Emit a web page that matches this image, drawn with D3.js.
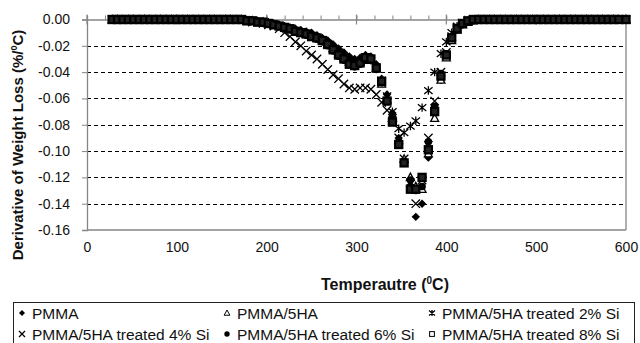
<!DOCTYPE html>
<html><head><meta charset="utf-8">
<script src="https://cdn.jsdelivr.net/npm/d3@7"></script>
<style>
body{margin:0;background:#fff}
svg{display:block}
text{font-family:"Liberation Sans",Arial,sans-serif;fill:#111}
</style>
</head><body>
<svg id="c" width="640" height="343"></svg>
<script>
// ---- data (temperature in °C, derivative of weight loss in %/°C) ----
const temps = [28,34,40,46,52,58,64,70,76,82,88,94,100,106,112,118,124,130,136,142,148,154,160,166,172,
  178,184,190,196,202,208,214,220,226,232,238,244,250,256,262,268,274,280,286,292,298,304,310,316,322,
  328,334,340,347,353,360,366,373,380,387,394,400,406,412,418,424,430,
  436,442,448,454,460,466,472,478,484,490,496,502,508,514,520,526,532,538,544,550,556,562,568,574,580,586,592,600];

const pmma = [0,0,0,0,0, 0,0,0,0,0, 0,0,0,0,0, 0,0,0,0,0, 0,0,0,0,0,
  -0.001,-0.001,-0.001,-0.002,-0.002,-0.003,-0.004,-0.005,-0.006,-0.007,
  -0.008,-0.009,-0.010,-0.012,-0.014,-0.016,-0.019,-0.022,-0.025,-0.028,
  -0.030,-0.029,-0.027,-0.028,-0.034,-0.045,-0.057,-0.071,-0.090,-0.107,
  -0.126,-0.150,-0.140,-0.105,-0.072,-0.046,-0.028,-0.015,-0.008,-0.004,
  -0.002,-0.001,
  0,0,0,0,0, 0,0,0,0,0, 0,0,0,0,0, 0,0,0,0,0, 0,0,0,0,0, 0,0,0];

const ha5 = [0,0,0,0,0, 0,0,0,0,0, 0,0,0,0,0, 0,0,0,0,0, 0,0,0,0,0,
  -0.001,-0.001,-0.002,-0.002,-0.003,-0.004,-0.005,-0.006,-0.007,-0.008,
  -0.010,-0.011,-0.012,-0.014,-0.016,-0.019,-0.022,-0.026,-0.029,-0.032,
  -0.034,-0.032,-0.030,-0.031,-0.037,-0.049,-0.061,-0.075,-0.092,-0.106,
  -0.120,-0.127,-0.129,-0.102,-0.075,-0.046,-0.029,-0.016,-0.008,-0.004,
  -0.002,-0.001,
  0,0,0,0,0, 0,0,0,0,0, 0,0,0,0,0, 0,0,0,0,0, 0,0,0,0,0, 0,0,0];

const si2 = [0,0,0,0,0, 0,0,0,0,0, 0,0,0,0,0, 0,0,0,0,0, 0,0,0,0,0,
  -0.001,-0.001,-0.002,-0.002,-0.003,-0.004,-0.005,-0.006,-0.007,-0.009,
  -0.010,-0.011,-0.012,-0.014,-0.016,-0.019,-0.022,-0.025,-0.028,-0.031,
  -0.033,-0.032,-0.030,-0.031,-0.036,-0.046,-0.058,-0.070,-0.083,-0.086,
  -0.081,-0.077,-0.067,-0.054,-0.040,-0.026,-0.017,-0.010,-0.005,-0.003,
  -0.001,0,
  0,0,0,0,0, 0,0,0,0,0, 0,0,0,0,0, 0,0,0,0,0, 0,0,0,0,0, 0,0,0];

const si4 = [0,0,0,0,0, 0,0,0,0,0, 0,0,0,0,0, 0,0,0,0,0, 0,0,0,0,0,
  -0.001,-0.002,-0.002,-0.003,-0.004,-0.005,-0.007,-0.010,-0.013,-0.017,
  -0.020,-0.024,-0.027,-0.030,-0.034,-0.038,-0.042,-0.045,-0.049,-0.052,
  -0.053,-0.052,-0.052,-0.053,-0.057,-0.063,-0.069,-0.077,-0.090,-0.106,
  -0.124,-0.140,-0.122,-0.090,-0.062,-0.040,-0.025,-0.013,-0.006,-0.003,
  -0.001,0,
  0,0,0,0,0, 0,0,0,0,0, 0,0,0,0,0, 0,0,0,0,0, 0,0,0,0,0, 0,0,0];

const si6 = [0,0,0,0,0, 0,0,0,0,0, 0,0,0,0,0, 0,0,0,0,0, 0,0,0,0,0,
  -0.001,-0.001,-0.002,-0.003,-0.003,-0.004,-0.005,-0.006,-0.008,-0.009,
  -0.010,-0.012,-0.013,-0.015,-0.017,-0.020,-0.024,-0.028,-0.031,-0.034,
  -0.036,-0.034,-0.031,-0.031,-0.038,-0.048,-0.061,-0.074,-0.093,-0.108,
  -0.122,-0.130,-0.127,-0.093,-0.066,-0.041,-0.026,-0.013,-0.006,-0.003,
  -0.001,0,
  0,0,0,0,0, 0,0,0,0,0, 0,0,0,0,0, 0,0,0,0,0, 0,0,0,0,0, 0,0,0];

const si8 = [0,0,0,0,0, 0,0,0,0,0, 0,0,0,0,0, 0,0,0,0,0, 0,0,0,0,0,
  -0.001,-0.001,-0.002,-0.002,-0.003,-0.004,-0.005,-0.006,-0.007,-0.009,
  -0.010,-0.011,-0.013,-0.014,-0.016,-0.019,-0.023,-0.027,-0.030,-0.034,
  -0.035,-0.033,-0.029,-0.030,-0.037,-0.047,-0.062,-0.078,-0.095,-0.109,
  -0.129,-0.129,-0.120,-0.099,-0.070,-0.043,-0.027,-0.014,-0.007,-0.003,
  -0.001,0,
  0,0,0,0,0, 0,0,0,0,0, 0,0,0,0,0, 0,0,0,0,0, 0,0,0,0,0, 0,0,0];

const seriesNames = ["PMMA","PMMA/5HA","PMMA/5HA treated 2% Si","PMMA/5HA treated 4% Si","PMMA/5HA treated 6% Si","PMMA/5HA treated 8% Si"];
const seriesValues = [pmma, ha5, si2, si4, si6, si8];
const seriesMarkers = ["diamond","triangle","asterisk","times","circle","square"];

const xTicks = [0,100,200,300,400,500,600];
const xTickLabels = ["0","100","200","300","400","500","600"];
const yTicks = [0,-0.02,-0.04,-0.06,-0.08,-0.10,-0.12,-0.14,-0.16];
const yTickLabels = ["0.00","-0.02","-0.04","-0.06","-0.08","-0.10","-0.12","-0.14","-0.16"];

// ---- drawing ----
const svg = d3.select("#c");
const L = 87, R = 626, T = 19.5, B = 230;
const x = d3.scaleLinear().domain([0,600]).range([L,R]);
const y = d3.scaleLinear().domain([-0.16,0]).range([B,T]);
const axisCol = "#858585";

// gridlines
svg.append("g").selectAll("line").data(yTicks.filter(v => v < 0 && v > -0.16)).join("line")
  .attr("x1", L).attr("x2", R).attr("y1", d => Math.round(y(d)) + 0.5).attr("y2", d => Math.round(y(d)) + 0.5)
  .attr("stroke", "#000").attr("stroke-width", 1).attr("stroke-dasharray", "4,3");

// plot borders
const border = svg.append("g").attr("stroke", axisCol).attr("stroke-width", 1.3).attr("fill", "none");
border.append("line").attr("x1", L).attr("x2", R).attr("y1", B).attr("y2", B);
border.append("line").attr("x1", R).attr("x2", R).attr("y1", T).attr("y2", B);

// y axis
const yAx = svg.append("g").attr("transform", `translate(${L},0)`)
  .call(d3.axisLeft(y).tickValues(yTicks).tickSize(5).tickPadding(12)
    .tickFormat((d,i) => yTickLabels[i]));
yAx.select(".domain").attr("stroke", axisCol).attr("stroke-width", 1.3);
yAx.selectAll(".tick line").attr("stroke", axisCol);
yAx.selectAll("text").style("font-size", "14px").attr("fill", "#111");

// x axis labels (at bottom)
const xAx = svg.append("g").attr("transform", `translate(0,${B})`)
  .call(d3.axisBottom(x).tickValues(xTicks).tickSize(0).tickPadding(12)
    .tickFormat((d,i) => xTickLabels[i]));
xAx.select(".domain").remove();
xAx.selectAll("text").style("font-size", "14px").attr("fill", "#111");

// x axis line at value 0 (top) with minor and major ticks
const y0 = y(0);
const topAx = svg.append("g").attr("transform", `translate(0,${y0})`)
  .call(d3.axisTop(x).ticks(30).tickSize(4).tickFormat(""));
topAx.select(".domain").attr("stroke", axisCol).attr("stroke-width", 1.3);
topAx.selectAll(".tick line").attr("stroke", axisCol);
svg.append("g").selectAll("line").data(xTicks).join("line")
  .attr("x1", d => x(d)).attr("x2", d => x(d)).attr("y1", y0 - 5).attr("y2", y0 + 5)
  .attr("stroke", axisCol).attr("stroke-width", 1.2);

// markers
function drawMarker(g, type, s, legend) {
  const r = s;
  if (type === "diamond") {
    g.append("path").attr("d", `M0,${-r}L${r},0L0,${r}L${-r},0Z`).attr("fill", "#000");
  } else if (type === "triangle") {
    g.append("path").attr("d", `M0,${-r}L${r*0.95},${r*0.75}L${-r*0.95},${r*0.75}Z`)
      .attr("fill", "#fff").attr("stroke", "#000").attr("stroke-width", legend ? 1 : 1.3);
  } else if (type === "asterisk") {
    g.append("path").attr("d", `M${-r},${-r*0.8}L${r},${r*0.8}M${-r},${r*0.8}L${r},${-r*0.8}M0,${-r}L0,${r}`)
      .attr("stroke", "#000").attr("stroke-width", 1.3).attr("fill", "none");
  } else if (type === "times") {
    g.append("path").attr("d", `M${-r},${-r}L${r},${r}M${-r},${r}L${r},${-r}`)
      .attr("stroke", "#000").attr("stroke-width", 1.3).attr("fill", "none");
  } else if (type === "circle") {
    g.append("circle").attr("r", r * 0.9).attr("fill", "#000");
  } else if (type === "square") {
    const h = legend ? r * 0.8 : r * 0.85;
    g.append("rect").attr("x", -h).attr("y", -h).attr("width", 2*h).attr("height", 2*h)
      .attr("fill", legend ? "#fff" : "#222").attr("stroke", "#000").attr("stroke-width", legend ? 1 : 2.2);
  }
}

const plot = svg.append("g");
seriesValues.forEach((vals, si) => {
  const g = plot.append("g");
  const pts = temps.map((t, i) => ({t, v: vals[i]}));
  g.selectAll("g").data(pts).join("g")
    .attr("transform", d => `translate(${x(d.t)},${y(d.v)})`)
    .each(function() { drawMarker(d3.select(this), seriesMarkers[si], 4.2, false); });
});

// axis titles
const xt = svg.append("text").attr("x", 385).attr("y", 290).attr("text-anchor", "middle")
  .style("font-size", "16px").style("font-weight", "bold");
xt.append("tspan").text("Temperautre (");
xt.append("tspan").text("0").style("font-size", "10px").attr("dy", -6);
xt.append("tspan").text("C)").attr("dy", 6);

const yt = svg.append("text").attr("transform", "translate(23,145) rotate(-90)").attr("text-anchor", "middle")
  .style("font-size", "15px").style("font-weight", "bold");
yt.append("tspan").text("Derivative of Weight Loss (%/");
yt.append("tspan").text("0").style("font-size", "9px").attr("dy", -6);
yt.append("tspan").text("C)").attr("dy", 6);

// legend
const lg = svg.append("g");
lg.append("rect").attr("x", 13.5).attr("y", 302.5).attr("width", 621).attr("height", 48)
  .attr("fill", "#fff").attr("stroke", "#222").attr("stroke-width", 1);
const legendPos = [[22,313],[227,313],[432,313],[22,334],[227,334],[432,334]];
seriesNames.forEach((name, i) => {
  const [lx, ly] = legendPos[i];
  const mg = lg.append("g").attr("transform", `translate(${lx},${ly})`);
  drawMarker(mg, seriesMarkers[i], 3, true);
  lg.append("text").attr("x", lx + 10).attr("y", ly + 5.5).text(name).style("font-size", "15.5px");
});
</script>
</body></html>
